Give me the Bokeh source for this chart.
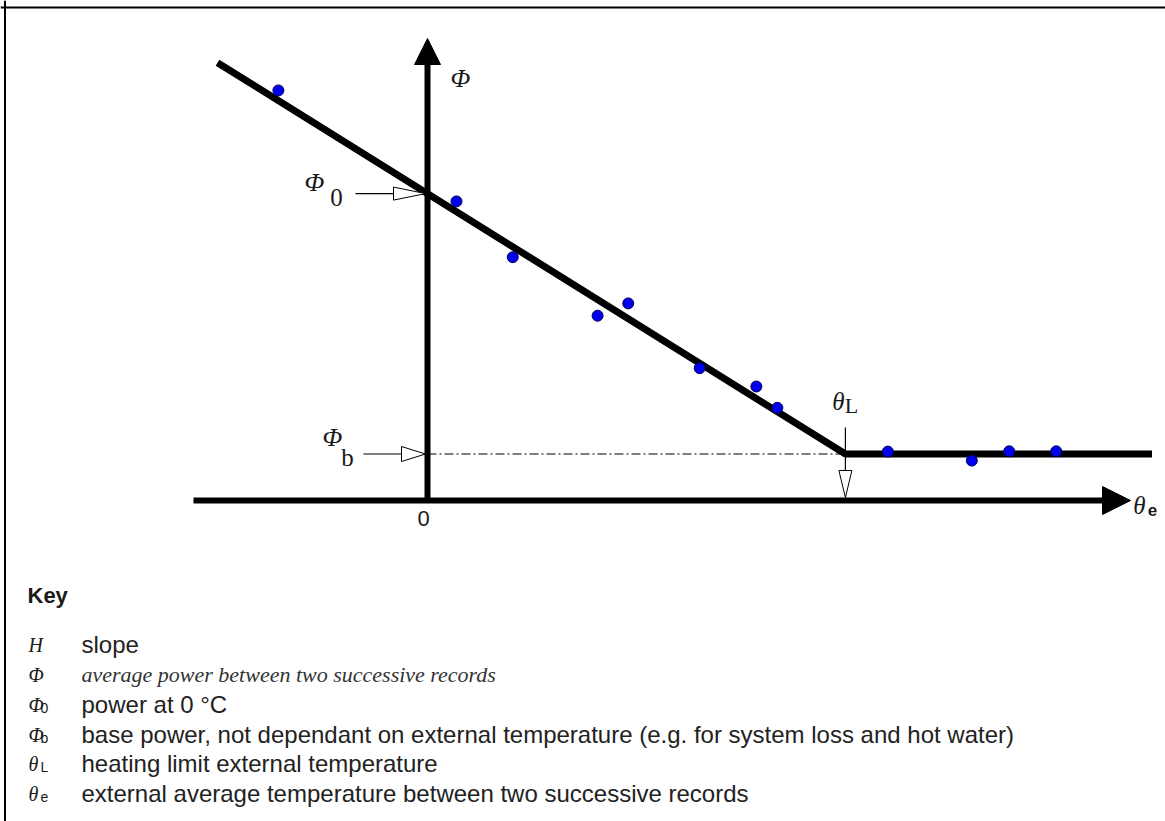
from bokeh.plotting import figure
from bokeh.models import Label, Arrow, NormalHead, Span, Range1d
from bokeh.embed import file_html
from bokeh.resources import INLINE

# ---------------- data ----------------
theta_e = [-3.55, 0.69, 2.03, 4.05, 4.78, 6.48, 7.83, 8.33, 10.96, 12.96, 13.85, 14.97]
phi = [13.67, 9.97, 8.11, 6.16, 6.57, 4.41, 3.80, 3.09, 1.63, 1.33, 1.64, 1.64]
phi_0 = 10.23          # power at 0 °C
phi_b = 1.55           # base power
theta_L = 9.95         # heating limit temperature
fit_theta = [-5.0, theta_L, 17.25]

key_symbols = ["H", "Φ", "Φ", "Φ", "θ", "θ"]
key_subscripts = ["", "", "0", "b", "L", "e"]
key_texts = [
    "slope",
    "average power between two successive records",
    "power at 0 °C",
    "base power, not dependant on external temperature (e.g. for system loss and hot water)",
    "heating limit external temperature",
    "external average temperature between two successive records",
]

# derived fit line (piecewise linear)
H_slope = (phi_0 - phi_b) / theta_L
fit_phi = [phi_0 - H_slope * t if t < theta_L else phi_b for t in fit_theta]

# ---------------- figure ----------------
W, HGT = 1165, 821
PXX, PXY = 42.0, 30.0     # pixels per data unit
OX, OY = 427, 500          # origin in canvas px
x0 = -OX / PXX
x1 = (W - OX) / PXX
y1 = OY / PXY
y0 = -(HGT - OY) / PXY

p = figure(width=W, height=HGT, x_range=Range1d(x0, x1), y_range=Range1d(y0, y1),
           output_backend="svg", toolbar_location=None, min_border=0,
           x_axis_type=None, y_axis_type=None)
p.grid.visible = False
p.outline_line_color = None
p.background_fill_color = "white"
p.border_fill_color = "white"


def dx(px):
    return px / PXX


def dy(px):
    return px / PXY


# frame lines (left and top)
p.add_layout(Span(location=x0 + dx(4.5), dimension="height", line_color="black", line_width=2))
p.add_layout(Span(location=y1 - dy(7), dimension="width", line_color="black", line_width=2))

# axes as arrows
p.add_layout(Arrow(end=NormalHead(size=28, fill_color="black", line_color="black"),
                   x_start=dx(-234), y_start=0, x_end=dx(703), y_end=0,
                   line_width=6, line_color="black"))
p.add_layout(Arrow(end=NormalHead(size=26, fill_color="black", line_color="black"),
                   x_start=0, y_start=0, x_end=0, y_end=dy(462),
                   line_width=6, line_color="black"))

# base power dash-dot line
p.line([0, theta_L], [phi_b, phi_b], line_color="#555555", line_width=1.5,
       line_dash="9 3 2 3")

# fit line
p.line(fit_theta, fit_phi, line_color="black", line_width=7)

# measured points
p.scatter(theta_e, phi, size=11, fill_color="#0000ee", line_color="#000055", line_width=1)


def hollow_arrow(tx, ty, direction, shaft_px, head_len, head_half):
    if direction == "right":
        base = tx - dx(head_len)
        p.line([tx - dx(shaft_px), base], [ty, ty], line_color="black", line_width=1.2)
        p.patch([tx, base, base], [ty, ty + dy(head_half), ty - dy(head_half)],
                fill_color="white", line_color="black", line_width=1)
    else:  # down
        base = ty + dy(head_len)
        p.line([tx, tx], [ty + dy(shaft_px), base], line_color="black", line_width=1.2)
        p.patch([tx, tx - dx(head_half), tx + dx(head_half)], [ty, base, base],
                fill_color="white", line_color="black", line_width=1)


hollow_arrow(-dx(2), phi_0, "right", 70, 32, 6.5)
hollow_arrow(-dx(2), phi_b, "right", 62, 24, 7.5)
hollow_arrow(theta_L, dy(3), "down", 70, 27, 6.5)

SERIF = "Liberation Serif"
SANS = "Liberation Sans"


def lab(x, y, text, size, style="normal", font=SERIF, align="center", color="#1a1a1a",
        xu="data", yu="data"):
    p.add_layout(Label(x=x, y=y, text=text, text_font=font, text_font_size=f"{size}px",
                       text_font_style=style, text_align=align, text_baseline="middle",
                       text_color=color, x_units=xu, y_units=yu))


# chart labels
lab(dx(33), dy(422), "Φ", 26, "italic")
lab(dx(-113), phi_0 + dy(11), "Φ", 26, "italic")
lab(dx(-91), phi_0 - dy(4), "0", 25)
lab(dx(-95), phi_b + dy(17), "Φ", 26, "italic")
lab(dx(-80), phi_b - dy(3), "b", 25)
lab(theta_L - dx(7), phi_b + dy(53), "θ", 25, "italic")
lab(theta_L + dx(6), phi_b + dy(49), "L", 22)
lab(dx(712), -dy(5), "θ", 25, "italic")
lab(dx(725), -dy(9), "e", 17, "bold", SANS)
lab(-dx(4), -dy(18), "0", 22, font=SANS)

# key
def sy(ref_y):
    return HGT - ref_y


lab(27, sy(595), "Key", 22, "bold", SANS, "left", xu="screen", yu="screen")
key_rows = [644, 674, 704, 734, 763, 793]
for i, (sym, sub, txt) in enumerate(zip(key_symbols, key_subscripts, key_texts)):
    y = sy(key_rows[i])
    lab(28, y, sym, 20, "italic", SERIF, "left", xu="screen", yu="screen")
    if sub:
        lab(40, y - 3, sub, 14, "normal", SANS, "left", xu="screen", yu="screen")
    if i == 1:
        lab(81, y, txt, 22, "italic", SERIF, "left", "#333333", xu="screen", yu="screen")
    else:
        lab(81, y, txt, 24, "normal", SANS, "left", "#222222", xu="screen", yu="screen")

open("out.html", "w").write(file_html(p, INLINE))
